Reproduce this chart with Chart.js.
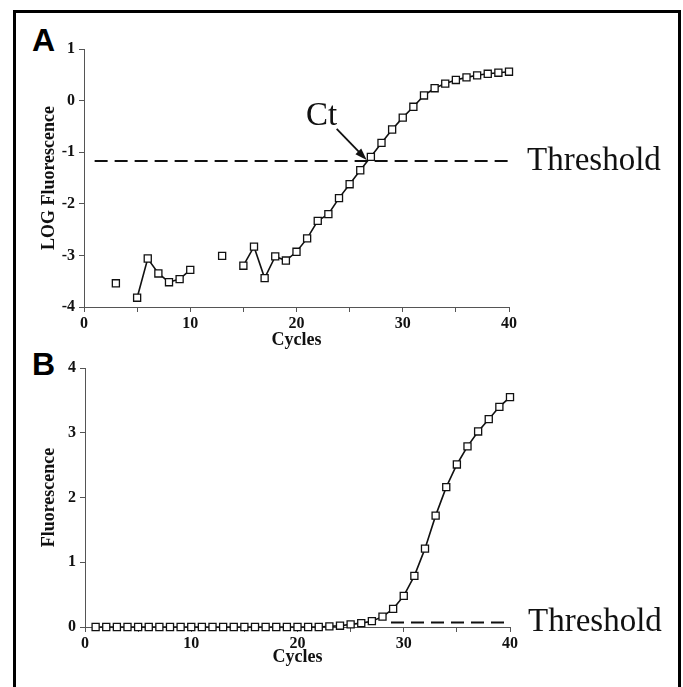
<!DOCTYPE html>
<html><head><meta charset="utf-8">
<script src="https://cdn.jsdelivr.net/npm/chart.js@4.4.1/dist/chart.umd.min.js"></script>
<style>
html,body{margin:0;padding:0;background:#fff;}
body{width:683px;height:687px;position:relative;overflow:hidden;}
#frame{position:absolute;left:13px;top:10px;width:662px;height:700px;border:3px solid #000;border-bottom:none;}
.panel{position:absolute;font-family:"Liberation Sans",Arial,sans-serif;font-weight:bold;font-size:32px;line-height:32px;color:#000;}
canvas{position:absolute;left:0;}
</style></head><body>
<div id="frame"></div>
<div class="panel" style="left:32px;top:24px">A</div>
<div class="panel" style="left:32px;top:348px">B</div>
<canvas id="cA" width="683" height="351" style="top:0"></canvas>
<canvas id="cB" width="683" height="337" style="top:350px"></canvas>
<script>
// ---- data ----
const cycles = [1,2,3,4,5,6,7,8,9,10,11,12,13,14,15,16,17,18,19,20,21,22,23,24,25,26,27,28,29,30,31,32,33,34,35,36,37,38,39,40];
const logFluorescence = [null,null,-3.54,null,-3.82,-3.06,-3.35,-3.52,-3.46,-3.28,null,null,-3.01,null,-3.20,-2.83,-3.44,-3.02,-3.10,-2.93,-2.67,-2.33,-2.20,-1.89,-1.62,-1.35,-1.09,-0.82,-0.56,-0.33,-0.12,0.10,0.24,0.33,0.40,0.45,0.49,0.52,0.54,0.56];
const fluorescence = [0,0,0,0,0,0,0,0,0,0,0,0,0,0,0,0,0,0,0,0,0,0,0.01,0.02,0.04,0.06,0.09,0.16,0.28,0.48,0.79,1.21,1.72,2.16,2.51,2.79,3.02,3.21,3.40,3.55];
const thresholdA = -1.17, thresholdAFrom = 1, thresholdATo = 40;
const thresholdB = 0.07, thresholdBFrom = 28.8, thresholdBTo = 40;
const ctCycle = 26.7;
const xTickLabels = [0,10,20,30,40];
const yTicksA = [-4,-3,-2,-1,0,1];
const yTicksB = [0,1,2,3,4];

const serif = '"Liberation Serif", "Times New Roman", serif';
const axisCol = '#555';
const ink = '#111';

function toXY(vals){ return cycles.map((c,i)=>({x:c, y:vals[i]})); }

function xScale(){
  return {
    type:'linear', min:0, max:40,
    afterBuildTicks(s){ s.ticks = [0,5,10,15,20,25,30,35,40].map(v=>({value:v})); },
    ticks:{ color:ink, font:{family:serif, size:16, weight:'bold'}, padding:2, maxRotation:0, autoSkip:false,
      callback:(v)=> xTickLabels.includes(v) ? String(v) : '' },
    grid:{ drawOnChartArea:false, drawTicks:true, tickLength:5, tickColor:axisCol },
    border:{ display:true, color:axisCol, width:1 },
    title:{ display:true, text:'Cycles', color:ink, font:{family:serif, size:18, weight:'bold'}, padding:{top:0,bottom:0} }
  };
}
function yScale(min,max,ticksArr,title,width){
  return {
    type:'linear', min, max,
    afterBuildTicks(s){ s.ticks = ticksArr.map(v=>({value:v})); },
    afterFit(s){ s.width = width; },
    ticks:{ color:ink, font:{family:serif, size:16, weight:'bold'}, padding:4 },
    grid:{ drawOnChartArea:false, drawTicks:true, tickLength:5, tickColor:axisCol },
    border:{ display:true, color:axisCol, width:1 },
    title:{ display:true, text:title, color:ink, font:{family:serif, size:18, weight:'bold'}, padding:{top:1,bottom:0} }
  };
}
function curveDs(vals){
  return { data:toXY(vals), borderColor:ink, borderWidth:1.6, pointStyle:'rect', pointRadius:5,
    pointBackgroundColor:'#fff', pointBorderColor:ink, pointBorderWidth:1.3, spanGaps:false, tension:0, clip:false, order:0 };
}
function threshDs(v,a,b){
  return { data:[{x:a,y:v},{x:b,y:v}], borderColor:ink, borderWidth:2, borderDash:[13,7], pointRadius:0, clip:false, order:1 };
}
function labelPlugin(id, thr, withCt){
  return { id,
    afterDatasetsDraw(chart){
      const {ctx, scales:{x,y}} = chart;
      const ty = y.getPixelForValue(thr);
      ctx.save();
      ctx.fillStyle = ink; ctx.strokeStyle = ink;
      ctx.font = '33px ' + serif;
      ctx.textBaseline = 'middle'; ctx.textAlign = 'left';
      ctx.fillText('Threshold', x.right + 18, ty);
      if (withCt){
        const tx = x.getPixelForValue(ctCycle);
        ctx.textAlign = 'center';
        ctx.fillText('Ct', tx - 46, ty - 45);
        const sx = tx - 31, sy = ty - 32, ex = tx - 1, ey = ty - 1;
        const ang = Math.atan2(ey - sy, ex - sx);
        ctx.lineWidth = 1.8;
        ctx.beginPath(); ctx.moveTo(sx, sy); ctx.lineTo(ex - 8*Math.cos(ang), ey - 8*Math.sin(ang)); ctx.stroke();
        ctx.beginPath();
        ctx.moveTo(ex, ey);
        ctx.lineTo(ex - 12*Math.cos(ang) + 4*Math.sin(ang), ey - 12*Math.sin(ang) - 4*Math.cos(ang));
        ctx.lineTo(ex - 12*Math.cos(ang) - 4*Math.sin(ang), ey - 12*Math.sin(ang) + 4*Math.cos(ang));
        ctx.closePath(); ctx.fill();
      }
      ctx.restore();
    }
  };
}
const common = { responsive:false, animation:false, devicePixelRatio:1,
  plugins:{ legend:{display:false}, tooltip:{enabled:false} } };

new Chart(document.getElementById('cA'), {
  type:'line',
  data:{ datasets:[ curveDs(logFluorescence), threshDs(thresholdA, thresholdAFrom, thresholdATo) ] },
  options:{ ...common,
    layout:{ padding:{ left:38, right:174, top:49, bottom:0 } },
    scales:{ x:{ ...xScale(), afterFit(s){ s.height = 44; } }, y: yScale(-4, 1, yTicksA, 'LOG Fluorescence', 46) } },
  plugins:[ labelPlugin('annA', thresholdA, true) ]
});
new Chart(document.getElementById('cB'), {
  type:'line',
  data:{ datasets:[ curveDs(fluorescence), threshDs(thresholdB, thresholdBFrom, thresholdBTo) ] },
  options:{ ...common,
    layout:{ padding:{ left:38, right:173, top:18, bottom:19 } },
    scales:{ x:{ ...xScale(), afterFit(s){ s.height = 41; } }, y: yScale(0, 4, yTicksB, 'Fluorescence', 47) } },
  plugins:[ labelPlugin('annB', thresholdB, false) ]
});
</script>
</body></html>
